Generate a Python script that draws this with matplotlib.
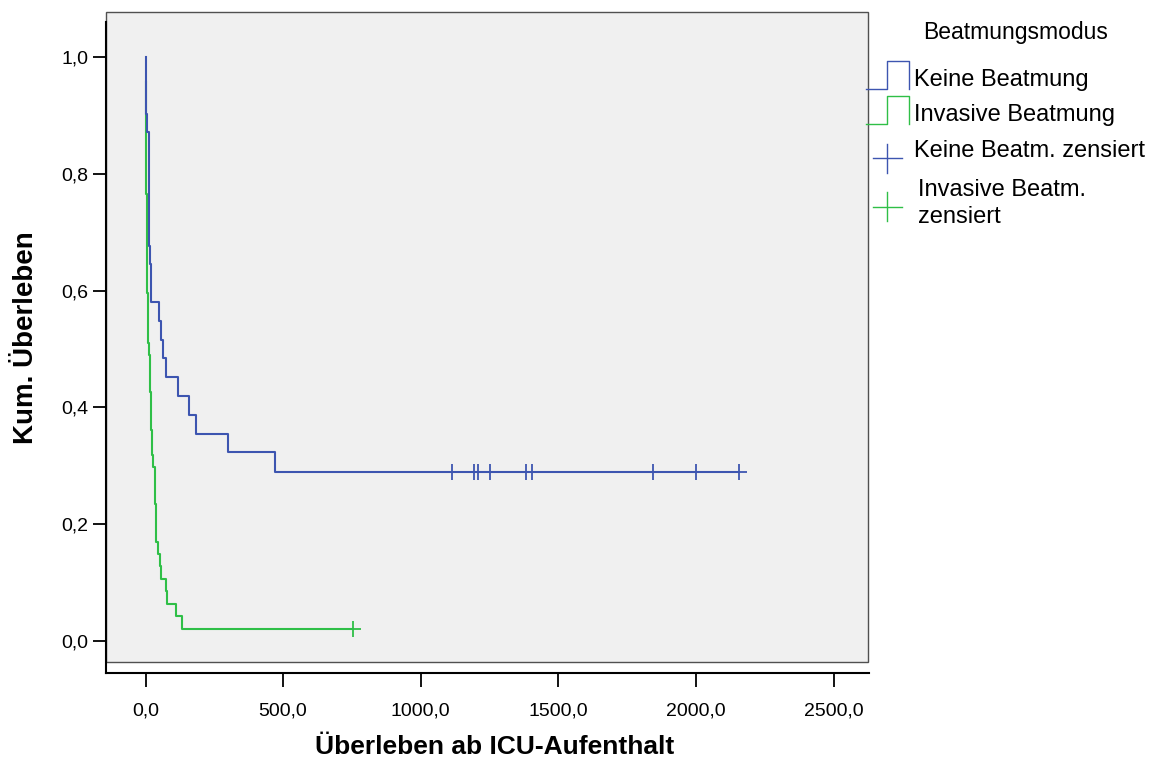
import matplotlib
matplotlib.use("Agg")
import matplotlib.pyplot as plt
from matplotlib.lines import Line2D
from matplotlib.patches import Rectangle

# =====================================
# Daten (abgelesen aus der Kaplan-Meier-Grafik)
# =====================================

# Keine Beatmung: Zeitpunkte der Stufen und Überlebensanteil danach
keine_t = [0, 0.5, 2, 6.7, 11.5, 14, 16.4, 19, 48, 55, 62, 73, 118, 159, 183, 301, 472]
keine_s = [1.0, 0.968, 0.903, 0.871, 0.806, 0.677, 0.645, 0.581, 0.548, 0.516,
           0.484, 0.452, 0.419, 0.387, 0.355, 0.323, 0.290]
keine_zensiert = [1113, 1195, 1207, 1253, 1382, 1406, 1845, 2002, 2158]

# Invasive Beatmung
invasiv_t = [0, 1, 2, 3, 4, 5, 6, 7, 8, 10, 12, 16, 20, 21, 23, 28, 33, 35, 37, 38,
             46, 51, 55, 73, 79, 111, 134]
invasiv_s = [0.957, 0.894, 0.830, 0.766, 0.723, 0.681, 0.638, 0.596, 0.553, 0.511,
             0.489, 0.426, 0.404, 0.362, 0.319, 0.298, 0.277, 0.234, 0.191, 0.170,
             0.149, 0.128, 0.106, 0.085, 0.064, 0.043, 0.021]
invasiv_zensiert = [755]

y_ticks = [0.0, 0.2, 0.4, 0.6, 0.8, 1.0]
x_ticks = [0, 500, 1000, 1500, 2000, 2500]

legend_titel = "Beatmungsmodus"
legend_texte = ["Keine Beatmung", "Invasive Beatmung", "Keine Beatm. zensiert",
                "Invasive Beatm.\nzensiert"]

BLAU = "#3d55b0"
GRUEN = "#2fbf47"

# =====================================
# Figur
# =====================================

W, H = 1155, 760
plt.rcParams["font.family"] = ["Liberation Sans", "DejaVu Sans"]

fig = plt.figure(figsize=(W / 100, H / 100), dpi=100)


def px(x, y):
    # Pixel (oben links) -> Figurkoordinaten
    return x / W, 1 - y / H


links, rechts, oben, unten = 106, 869, 12, 673
ax = fig.add_axes([links / W, 1 - unten / H, (rechts - links) / W, (unten - oben) / H])

# Skalen: 0 bei 145.5 px, 500 Einheiten = 137.6 px; y: 1.0 bei 57 px, 0.0 bei 641 px
x0 = -(145.5 - links) / 137.6 * 500
x1 = (rechts - 145.5) / 137.6 * 500
y1 = 1.0 + (57 - oben) / 584
y0 = -(unten - 641) / 584
ax.set_xlim(x0, x1)
ax.set_ylim(y0, y1)

# grauer Datenbereich
grau_unten = (unten - 662) / (unten - oben)
ax.add_patch(Rectangle((0, grau_unten), (868 - links) / (rechts - links), 1 - grau_unten,
                       transform=ax.transAxes, facecolor="#f0f0f0", edgecolor="#505050",
                       lw=1.0, zorder=0, clip_on=False))

for s in ["top", "right"]:
    ax.spines[s].set_visible(False)
ax.spines["left"].set_linewidth(1.5)
ax.spines["bottom"].set_linewidth(1.5)
ax.spines["left"].set_bounds(y0, 1.0 + (57 - 22) / 584)

# Kurven
ax.step(invasiv_t + [invasiv_zensiert[-1]], invasiv_s + [invasiv_s[-1]], where="post",
        color=GRUEN, lw=1.5, zorder=2)
ax.plot(invasiv_zensiert, [invasiv_s[-1]] * len(invasiv_zensiert), ls="none", marker="+",
        ms=11, mew=1.3, color=GRUEN, zorder=3)

ax.step(keine_t + [keine_zensiert[-1]], keine_s + [keine_s[-1]], where="post",
        color=BLAU, lw=1.5, zorder=4)
ax.plot(keine_zensiert, [keine_s[-1]] * len(keine_zensiert), ls="none", marker="+",
        ms=11, mew=1.3, color=BLAU, zorder=5)

# Achsenbeschriftung
ax.set_yticks(y_ticks)
ax.set_yticklabels([f"{v:.1f}".replace(".", ",") for v in y_ticks])
ax.set_xticks(x_ticks)
ax.set_xticklabels([f"{v:.1f}".replace(".", ",") for v in x_ticks])
ax.tick_params(axis="y", length=9.5, width=1.3, pad=3, labelsize=14)
ax.tick_params(axis="x", length=10, width=1.3, pad=11, labelsize=14)

fig.text(*px(495, 747), "Überleben ab ICU-Aufenthalt", fontsize=19, fontweight="bold",
         ha="center", va="center")
fig.text(*px(26, 338), "Kum. Überleben", fontsize=20, fontweight="bold", rotation=90,
         ha="center", va="center")

# =====================================
# Legende (manuell, rechts außerhalb)
# =====================================

fig.text(*px(1016, 39), legend_titel, fontsize=16.5, ha="center", va="baseline")


def stufe(y_low, y_high, farbe):
    xs = [866, 886.7, 886.7, 908.7, 908.7]
    ys = [y_low, y_low, y_high, y_high, y_low]
    fx = [x / W for x in xs]
    fy = [1 - y / H for y in ys]
    fig.add_artist(Line2D(fx, fy, color=farbe, lw=1.0, transform=fig.transFigure))


def kreuz(xc, yc, farbe):
    fig.add_artist(Line2D([872.7 / W, 901.7 / W], [1 - yc / H] * 2, color=farbe, lw=1.0,
                          transform=fig.transFigure))
    fig.add_artist(Line2D([xc / W] * 2, [1 - (yc - 14.5) / H, 1 - (yc + 14.5) / H],
                          color=farbe, lw=1.0, transform=fig.transFigure))


stufe(89, 60.7, BLAU)
stufe(124.3, 96, GRUEN)
kreuz(887, 158, BLAU)
kreuz(887, 206.7, GRUEN)

fig.text(*px(914, 85.7), legend_texte[0], fontsize=17, va="baseline")
fig.text(*px(914, 120.7), legend_texte[1], fontsize=17, va="baseline")
fig.text(*px(914, 156.7), legend_texte[2], fontsize=17, va="baseline")
zeilen = legend_texte[3].split("\n")
fig.text(*px(918, 196), zeilen[0], fontsize=17, va="baseline")
fig.text(*px(918, 223.3), zeilen[1], fontsize=17, va="baseline")

fig.savefig("out.png", dpi=100)
plt.close(fig)
